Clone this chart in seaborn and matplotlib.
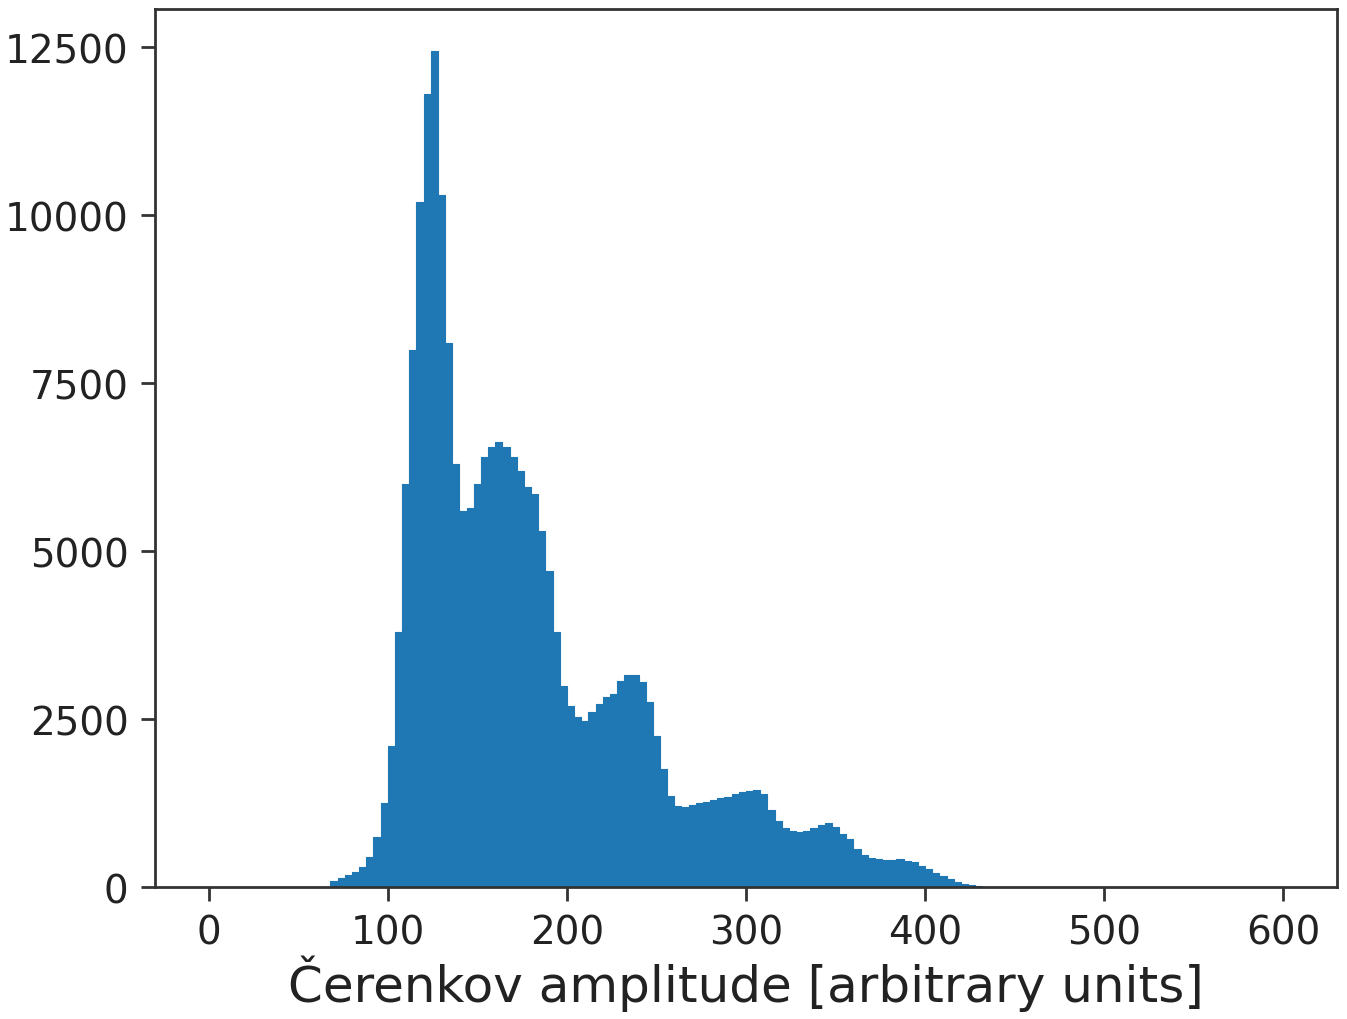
import numpy as np
import pandas as pd
import seaborn as sns
import matplotlib
matplotlib.use('Agg')
import matplotlib.pyplot as plt

# bin centres (arbitrary units), bins 4 units wide
bin_centers = list(range(70, 431, 4))
counts = [
    90, 140, 180, 230, 300, 450, 750, 1250, 2100, 3800,
    6000, 8000, 10200, 11800, 12450, 10300, 8100, 6300, 5600, 5650,
    6000, 6400, 6550, 6620, 6550, 6400, 6200, 5950, 5850, 5300,
    4700, 3800, 3000, 2700, 2530, 2470, 2600, 2720, 2830, 2880,
    3070, 3150, 3150, 3050, 2750, 2250, 1750, 1350, 1200, 1190,
    1220, 1250, 1270, 1290, 1320, 1340, 1380, 1410, 1430, 1440,
    1380, 1150, 980, 880, 830, 820, 830, 880, 920, 950,
    900, 790, 720, 560, 480, 430, 410, 400, 400, 410,
    390, 370, 320, 270, 210, 160, 120, 80, 50, 30,
    15,
]
xticks = [0, 100, 200, 300, 400, 500, 600]
yticks = [0, 2500, 5000, 7500, 10000, 12500]

df = pd.DataFrame({'amp': bin_centers, 'n': counts})

fig = plt.figure(figsize=(13.47, 10.2), dpi=100)
ax = fig.add_axes([0.115, 0.1294, 0.8776, 0.8608])

sns.histplot(data=df, x='amp', weights='n', binwidth=4, binrange=(68, 432),
             element='step', fill=True, color='#1f77b4', alpha=1,
             linewidth=0.8, edgecolor='#1f77b4', ax=ax)

ax.set_xlim(-30, 630)
ax.set_ylim(0, 12450 * 1.05)
ax.set_xticks(xticks)
ax.set_yticks(yticks)
ax.tick_params(labelsize=28, length=10, width=2, pad=9,
               color='#333333', labelcolor='#222222')
for s in ax.spines.values():
    s.set_linewidth(2)
    s.set_color('#333333')
ax.set_xlabel('Čerenkov amplitude [arbitrary units]', fontsize=36,
              color='#222222', labelpad=2)
ax.set_ylabel('')

fig.savefig('out.png', dpi=100)
